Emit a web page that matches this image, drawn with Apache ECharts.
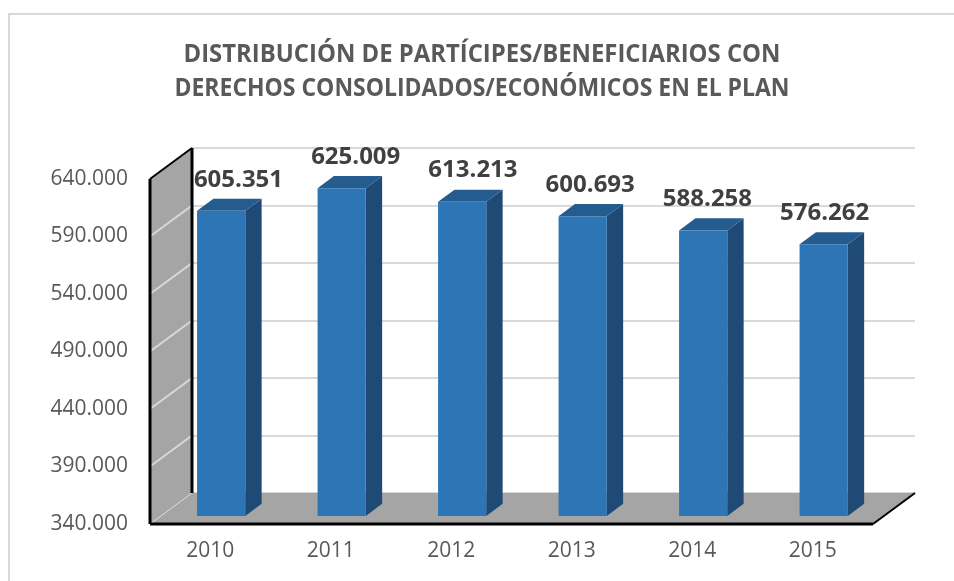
<!DOCTYPE html>
<html>
<head>
<meta charset="utf-8">
<script src="https://cdn.jsdelivr.net/npm/echarts@6/dist/echarts.min.js"></script>
<style>
  html, body { margin: 0; padding: 0; background: #fff; }
  #chart { width: 954px; height: 581px; }
</style>
</head>
<body>
<div id="chart"></div>
<script>
const years = ['2010', '2011', '2012', '2013', '2014', '2015'];
const beneficiarios = [605351, 625009, 613213, 600693, 588258, 576262];
const yTicks = [340000, 390000, 440000, 490000, 540000, 590000, 640000];
const titleLines = [
    'DISTRIBUCIÓN DE PARTÍCIPES/BENEFICIARIOS CON',
    'DERECHOS CONSOLIDADOS/ECONÓMICOS EN EL PLAN'
];

// depth of the 3d box (back wall -> front edge)
const DX = -42, DY = 31;
const FRONT = 0.74, BACK = 0.35;

const fmt = v => String(v).replace(/\B(?=(\d{3})+(?!\d))/g, '.');

// squeeze title text to the narrow look of the original
const measure = (txt, font) => {
    const ctx = document.createElement('canvas').getContext('2d');
    ctx.font = font;
    return ctx.measureText(txt).width;
};
const titleFont = 'bold 25px "Open Sans"';
const titleWidths = [597, 615];

let dom = document.getElementById('chart');
let myChart = echarts.init(dom, null, {renderer: 'canvas'});

const renderWalls = (params, api) => {
    const cs = params.coordSys;
    const bottom = cs.y + cs.height;
    const right = cs.x + cs.width;
    const children = [];
    children.push({
        type: 'polygon',
        shape: {points: [[cs.x, cs.y], [cs.x + DX, cs.y + DY], [cs.x + DX, bottom + DY], [cs.x, bottom]]},
        style: {fill: '#A5A5A5'}
    });
    children.push({
        type: 'polygon',
        shape: {points: [[cs.x, bottom], [right, bottom], [right + DX, bottom + DY], [cs.x + DX, bottom + DY]]},
        style: {fill: '#A5A5A5'}
    });
    yTicks.forEach(t => {
        const p = api.coord([0, t]);
        children.push({
            type: 'line',
            shape: {x1: cs.x, y1: p[1], x2: cs.x + DX, y2: p[1] + DY},
            style: {stroke: '#D9D9D9', lineWidth: t === yTicks[0] ? 1 : 2}
        });
    });
    const edge = (x1, y1, x2, y2, w) => ({
        type: 'line',
        shape: {x1, y1, x2, y2},
        style: {stroke: '#000', lineWidth: w}
    });
    children.push(edge(cs.x + DX, cs.y + DY, cs.x + DX, bottom + DY, 3));
    children.push(edge(cs.x + DX, cs.y + DY, cs.x, cs.y, 2));
    children.push(edge(cs.x, cs.y, cs.x, bottom, 3));
    children.push(edge(cs.x + DX, bottom + DY, right + DX, bottom + DY, 3));
    children.push(edge(right + DX, bottom + DY, right, bottom, 2));
    return {type: 'group', children};
};

const renderBar = (params, api) => {
    const cs = params.coordSys;
    const i = api.value(0);
    const v = api.value(1);
    const top = api.coord([i, v]);
    const base = api.coord([i, yTicks[0]]);
    const w = api.size([1, 0])[0] * 0.4;
    const fx = DX * FRONT, fy = DY * FRONT, bx = DX * BACK, by = DY * BACK;
    const L = top[0] - w / 2, R = top[0] + w / 2;
    // labels drift a little toward the middle, like the perspective view
    const drift = (cs.x + cs.width * 0.55 - top[0]) * 0.027;
    return {
        type: 'group',
        children: [
            {
                type: 'polygon',
                shape: {points: [[R + fx, top[1] + fy], [R + bx, top[1] + by], [R + bx, base[1] + by], [R + fx, base[1] + fy]]},
                style: {fill: '#1F4A76'}
            },
            {
                type: 'polygon',
                shape: {points: [[L + fx, top[1] + fy], [R + fx, top[1] + fy], [R + bx, top[1] + by], [L + bx, top[1] + by]]},
                style: {fill: '#245C8F'}
            },
            {
                type: 'rect',
                shape: {x: L + fx, y: top[1] + fy, width: w, height: base[1] - top[1]},
                style: {fill: '#2E75B6'}
            },
            {
                type: 'text',
                x: top[0] + (fx + bx) / 2 + drift,
                y: top[1] + by - 19,
                style: {
                    text: fmt(v),
                    fill: '#404040',
                    font: 'bold 24px "Open Sans"',
                    textAlign: 'center',
                    textVerticalAlign: 'middle'
                }
            }
        ]
    };
};

let option = {
    animation: false,
    graphic: [
        {
            type: 'rect',
            shape: {x: 9, y: 14, width: 960, height: 590},
            style: {fill: 'none', stroke: '#D9D9D9', lineWidth: 2}
        },
        ...titleLines.map((t, k) => ({
            type: 'text',
            x: 482,
            y: 55 + k * 34,
            scaleX: titleWidths[k] / measure(t, titleFont),
            style: {
                text: t,
                font: titleFont,
                fill: '#595959',
                textAlign: 'center',
                textVerticalAlign: 'middle'
            }
        }))
    ],
    grid: [
        {left: 192, right: 39, top: 148, bottom: 88},
        {left: 150, right: 81, top: 179, bottom: 57}
    ],
    xAxis: [
        {
            type: 'category', gridIndex: 0, data: years,
            axisLine: {show: false}, axisTick: {show: false}, axisLabel: {show: false}
        },
        {
            type: 'category', gridIndex: 1, data: years,
            axisLine: {show: false}, axisTick: {show: false},
            axisLabel: {color: '#595959', fontSize: 21, fontFamily: 'Open Sans', margin: 17}
        }
    ],
    yAxis: [
        {
            type: 'value', gridIndex: 0, min: yTicks[0], max: yTicks[yTicks.length - 1], interval: 50000,
            axisLine: {show: false}, axisTick: {show: false}, axisLabel: {show: false},
            splitLine: {lineStyle: {color: '#D9D9D9', width: 2}}
        },
        {
            type: 'value', gridIndex: 1, min: yTicks[0], max: yTicks[yTicks.length - 1], interval: 50000,
            axisLine: {show: false}, axisTick: {show: false}, splitLine: {show: false},
            axisLabel: {color: '#595959', fontSize: 21, fontFamily: 'Open Sans', margin: 22, formatter: fmt}
        }
    ],
    series: [
        {
            type: 'custom',
            xAxisIndex: 0, yAxisIndex: 0,
            z: 1,
            clip: false,
            silent: true,
            data: [[0, yTicks[0]]],
            renderItem: renderWalls
        },
        {
            type: 'custom',
            xAxisIndex: 0, yAxisIndex: 0,
            z: 3,
            clip: false,
            data: years.map((y, i) => [i, beneficiarios[i]]),
            renderItem: renderBar
        }
    ]
};

myChart.setOption(option);
</script>
</body>
</html>
